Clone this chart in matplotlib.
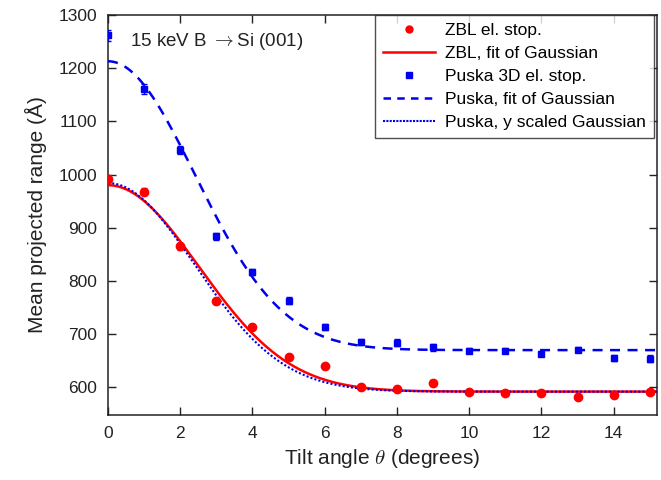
import numpy as np
import matplotlib
matplotlib.use("Agg")
import matplotlib.pyplot as plt
from matplotlib.lines import Line2D

plt.rcParams['font.family'] = ['Liberation Sans', 'DejaVu Sans']
plt.rcParams['mathtext.fontset'] = 'cm'

# Data
tilt = [0, 1, 2, 3, 4, 5, 6, 7, 8, 9, 10, 11, 12, 13, 14, 15]
zbl = [992, 968, 865, 762, 714, 657, 640, 601, 597, 609, 592, 590, 589, 581, 586, 592]
zbl_err = [7, 7, 6, 5, 5, 4, 4, 4, 4, 4, 3, 3, 3, 3, 3, 4]
puska = [1262, 1161, 1046, 884, 817, 763, 714, 685, 684, 675, 669, 669, 663, 671, 655, 654]
puska_err = [10, 9, 8, 7, 6, 6, 6, 6, 6, 6, 5, 5, 5, 5, 5, 6]

# Gaussian fit parameters (offset, amplitude, sigma)
zbl_fit = (592, 388, 2.51)
puska_fit = (670, 543, 2.41)
puska_scaled = (592, 392, 2.41)

labels = ['ZBL el. stop.', 'ZBL, fit of Gaussian', 'Puska 3D el. stop.',
          'Puska, fit of Gaussian', 'Puska, y scaled Gaussian']

def gauss(x, p):
    return p[0] + p[1] * np.exp(-x**2 / (2 * p[2]**2))

RED = '#ff0000'
BLUE = '#0000ee'
INK = '#222222'

fig = plt.figure(figsize=(6.61, 4.8), dpi=100)
ax = fig.add_axes([0.1634, 0.1354, 0.8306, 0.8334])

xs = np.linspace(0, 15.2, 400)
ax.errorbar(tilt, zbl, yerr=zbl_err, fmt='o', color=RED, ms=6, capsize=2.5,
            elinewidth=1, zorder=4)
ax.plot(xs, gauss(xs, zbl_fit), '-', color=RED, lw=1.8, zorder=3)
ax.errorbar(tilt, puska, yerr=puska_err, fmt='s', color=BLUE, ms=4.5, capsize=2.5,
            elinewidth=1, zorder=4)
ax.plot(xs, gauss(xs, puska_fit), color=BLUE, lw=1.8, dashes=(4, 3), zorder=3)
ax.plot(xs, gauss(xs, puska_scaled), color=BLUE, lw=1.5, dashes=(1, 1), zorder=3)

ax.set_xlim(0, 15.2)
ax.set_ylim(548, 1300)
ax.set_xticks([0, 2, 4, 6, 8, 10, 12, 14])
ax.set_yticks([600, 700, 800, 900, 1000, 1100, 1200, 1300])
ax.tick_params(direction='in', top=True, right=True, length=6, width=1,
               labelsize=12.5, colors=INK, pad=8)
for s in ax.spines.values():
    s.set_color(INK)
    s.set_linewidth(1.1)

ax.set_xlabel(r'Tilt angle $\theta$ (degrees)', fontsize=15, color=INK)
ax.set_ylabel('Mean projected range (Å)', fontsize=15, color=INK, labelpad=8)

ax.text(0.6, 1250, '15 keV B $\\rightarrow$Si (001)', fontsize=13.5, color=INK,
        va='center', ha='left')

handles = [
    Line2D([], [], ls='none', marker='o', color=RED, ms=5),
    Line2D([], [], ls='-', color=RED, lw=1.8),
    Line2D([], [], ls='none', marker='s', color=BLUE, ms=4),
    Line2D([], [], color=BLUE, lw=1.8, dashes=(3, 2.5)),
    Line2D([], [], color=BLUE, lw=1.5, dashes=(1, 0.6)),
]
leg = ax.legend(handles, labels, loc='upper right', fontsize=12.5, frameon=True,
                fancybox=False, edgecolor=INK, borderpad=0.45, handlelength=3.0,
                handletextpad=0.6, labelspacing=0.45, borderaxespad=0,
                bbox_to_anchor=(0.9945, 1.0))
leg.get_frame().set_linewidth(1.0)

fig.savefig('out.png', dpi=100)
